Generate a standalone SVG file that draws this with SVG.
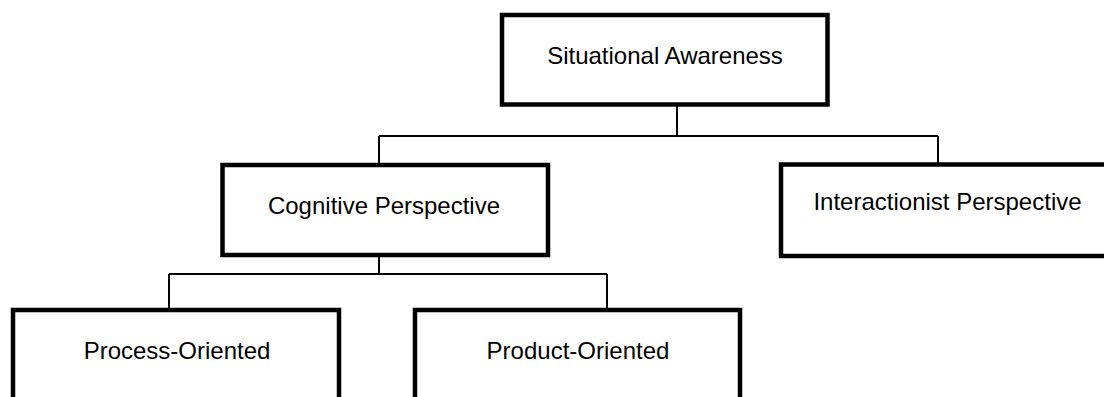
<svg xmlns="http://www.w3.org/2000/svg" width="1104" height="397" viewBox="0 0 1104 397">
<style>
.box{fill:#fff;stroke:#000;stroke-width:4.5}
.lbl{font-family:"Liberation Sans",Arial,sans-serif;font-size:24px;fill:#000;text-anchor:middle}
.con{fill:none;stroke:#000;stroke-width:2}
</style>
<rect width="1104" height="397" fill="#fff"/>
<g id="connectors">
<path class="con" d="M677 104 V136 M379 136 H938 M379 136 V165 M938 136 V165"/>
<path class="con" d="M379 255 V274 M169 274 H607 M169 274 V310 M607 274 V310"/>
</g>
<g id="situational-awareness">
<rect class="box" x="502" y="15" width="325.5" height="89.5"/>
<text class="lbl" x="665" y="64">Situational Awareness</text>
</g>
<g id="cognitive-perspective">
<rect class="box" x="222.5" y="165" width="325.5" height="90"/>
<text class="lbl" x="384" y="214">Cognitive Perspective</text>
</g>
<g id="interactionist-perspective">
<rect class="box" x="781" y="164.5" width="330" height="91.5"/>
<text class="lbl" x="947.5" y="210">Interactionist Perspective</text>
</g>
<g id="process-oriented">
<rect class="box" x="13" y="310" width="326" height="92"/>
<text class="lbl" x="177" y="359">Process-Oriented</text>
</g>
<g id="product-oriented">
<rect class="box" x="415" y="310" width="325" height="92"/>
<text class="lbl" x="578" y="359">Product-Oriented</text>
</g>
</svg>
